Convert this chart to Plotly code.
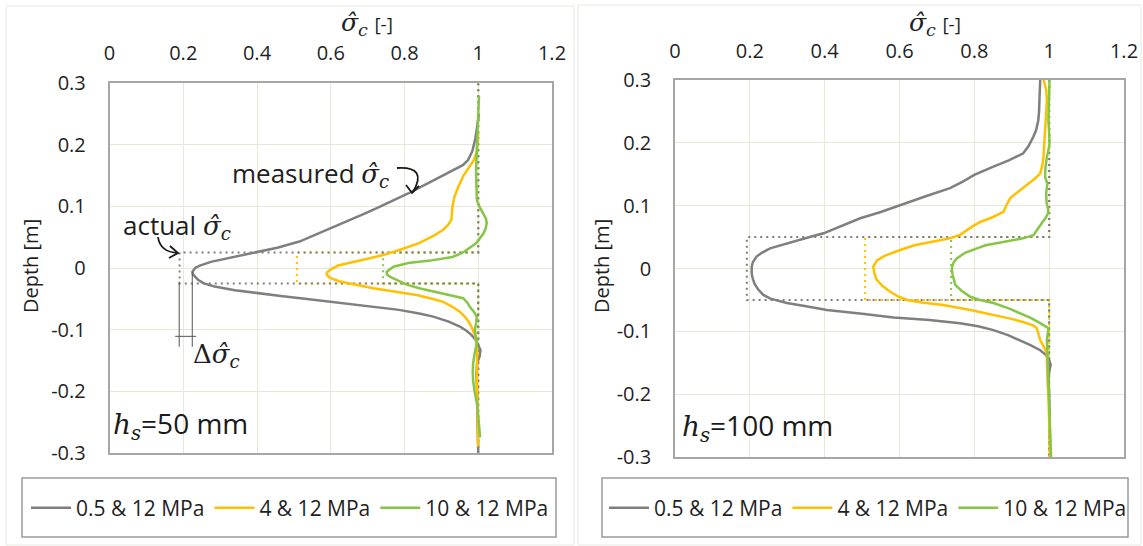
import plotly.graph_objects as go

W, H = 1143, 546

# ---------------- data ----------------
series_names = ["0.5 & 12 MPa", "4 & 12 MPa", "10 & 12 MPa"]
series_colors = ["#7f7f7f", "#ffc000", "#86c546"]

x_tick_vals = [0, 0.2, 0.4, 0.6, 0.8, 1.0, 1.2]
x_tick_text = ["0", "0.2", "0.4", "0.6", "0.8", "1", "1.2"]
y_tick_vals = [0.3, 0.2, 0.1, 0.0, -0.1, -0.2, -0.3]
y_tick_text = ["0.3", "0.2", "0.1", "0", "-0.1", "-0.2", "-0.3"]

# hs = 50 mm (left panel)
l_gray_depth = [0.25, 0.23, 0.21, 0.19, 0.175, 0.167, 0.158, 0.148, 0.135, 0.121, 0.110, 0.100, 0.090, 0.080,
                0.070, 0.062, 0.052, 0.043, 0.033, 0.024, 0.016, 0.010, 0.004, 0.000, -0.006, -0.010, -0.014,
                -0.019, -0.025, -0.030, -0.036, -0.041, -0.046, -0.050, -0.055, -0.061, -0.068, -0.074, -0.079,
                -0.087, -0.095, -0.102, -0.109, -0.117, -0.125, -0.133, -0.143, -0.155, -0.17, -0.2, -0.25, -0.3]
l_gray_val = [1.002, 0.998, 0.992, 0.984, 0.972, 0.958, 0.930, 0.898, 0.855, 0.810, 0.772, 0.735, 0.698, 0.660,
              0.622, 0.590, 0.553, 0.515, 0.455, 0.385, 0.320, 0.275, 0.245, 0.232, 0.225, 0.226, 0.232,
              0.240, 0.256, 0.285, 0.340, 0.400, 0.470, 0.530, 0.605, 0.690, 0.785, 0.840, 0.878,
              0.920, 0.950, 0.968, 0.982, 0.993, 1.000, 1.006, 1.004, 0.997, 0.995, 0.997, 0.998, 1.000]

l_orange_depth = [0.22, 0.19, 0.175, 0.165, 0.15, 0.132, 0.115, 0.100, 0.085, 0.078, 0.070, 0.062, 0.052, 0.040,
                  0.030, 0.021, 0.015, 0.010, 0.004, -0.003, -0.008, -0.011, -0.016, -0.022, -0.028, -0.033,
                  -0.039, -0.044, -0.050, -0.055, -0.063, -0.071, -0.080, -0.090, -0.100, -0.109, -0.12, -0.14,
                  -0.18, -0.22, -0.26, -0.29]
l_orange_val = [1.000, 0.996, 0.988, 0.977, 0.960, 0.946, 0.935, 0.930, 0.929, 0.927, 0.918, 0.905, 0.878, 0.838,
                0.790, 0.742, 0.700, 0.661, 0.620, 0.598, 0.589, 0.589, 0.598, 0.625, 0.670, 0.715,
                0.780, 0.833, 0.875, 0.905, 0.930, 0.950, 0.965, 0.977, 0.985, 0.991, 0.995, 0.997,
                0.996, 0.997, 0.998, 1.000]

l_green_depth = [0.28, 0.25, 0.22, 0.192, 0.175, 0.159, 0.135, 0.111, 0.100, 0.089, 0.080, 0.073, 0.064, 0.056,
                 0.048, 0.040, 0.032, 0.024, 0.018, 0.012, 0.008, 0.002, -0.006, -0.010, -0.014, -0.020, -0.027,
                 -0.033, -0.038, -0.044, -0.049, -0.056, -0.063, -0.071, -0.079, -0.090, -0.100, -0.110, -0.122,
                 -0.140, -0.155, -0.170, -0.182, -0.200, -0.219, -0.240, -0.260, -0.275]
l_green_val = [1.002, 1.000, 0.998, 0.996, 0.994, 0.994, 0.995, 0.996, 1.003, 1.014, 1.021, 1.023, 1.020, 1.014,
               1.005, 0.994, 0.975, 0.955, 0.930, 0.870, 0.810, 0.770, 0.752, 0.752, 0.760, 0.780, 0.806,
               0.840, 0.878, 0.930, 0.959, 0.970, 0.977, 0.988, 0.996, 0.994, 0.991, 0.993, 0.996,
               0.990, 0.986, 0.985, 0.986, 0.990, 0.996, 1.000, 1.003, 1.005]

# hs = 100 mm (right panel)
r_gray_depth = [0.30, 0.27, 0.25, 0.236, 0.22, 0.21, 0.195, 0.183, 0.172, 0.162, 0.149, 0.138, 0.128, 0.115,
                0.101, 0.090, 0.080, 0.068, 0.056, 0.050, 0.043, 0.037, 0.032, 0.025, 0.019, 0.010, 0.003,
                -0.005, -0.012, -0.018, -0.025, -0.033, -0.042, -0.048, -0.055, -0.060, -0.066, -0.072, -0.078,
                -0.082, -0.087, -0.092, -0.098, -0.106, -0.114, -0.122, -0.130, -0.137, -0.143, -0.153, -0.165,
                -0.177, -0.2, -0.25, -0.3]
r_gray_val = [0.976, 0.975, 0.973, 0.971, 0.965, 0.958, 0.945, 0.930, 0.892, 0.851, 0.800, 0.768, 0.735, 0.670,
              0.602, 0.550, 0.495, 0.445, 0.397, 0.360, 0.316, 0.280, 0.254, 0.232, 0.218, 0.208, 0.205,
              0.205, 0.206, 0.209, 0.213, 0.222, 0.236, 0.255, 0.299, 0.350, 0.406, 0.500, 0.584,
              0.680, 0.762, 0.810, 0.851, 0.890, 0.922, 0.950, 0.976, 0.990, 0.998, 1.004, 1.000,
              0.998, 1.000, 1.002, 1.003]

r_orange_depth = [0.30, 0.285, 0.268, 0.245, 0.225, 0.20, 0.178, 0.165, 0.151, 0.142, 0.133, 0.122, 0.112, 0.100,
                  0.090, 0.082, 0.074, 0.067, 0.061, 0.054, 0.048, 0.042, 0.037, 0.029, 0.020, 0.013, 0.003,
                  -0.008, -0.018, -0.028, -0.037, -0.044, -0.050, -0.054, -0.058, -0.066, -0.074, -0.081, -0.087,
                  -0.091, -0.095, -0.105, -0.114, -0.125, -0.135, -0.150, -0.167, -0.185, -0.204, -0.25, -0.3]
r_orange_val = [0.985, 0.992, 0.994, 0.991, 0.989, 0.987, 0.985, 0.982, 0.976, 0.960, 0.940, 0.918, 0.896, 0.885,
                0.878, 0.850, 0.816, 0.795, 0.780, 0.763, 0.735, 0.680, 0.640, 0.600, 0.560, 0.540, 0.530,
                0.533, 0.539, 0.555, 0.575, 0.595, 0.620, 0.660, 0.717, 0.790, 0.851, 0.905, 0.940,
                0.958, 0.967, 0.972, 0.976, 0.986, 0.994, 0.994, 0.994, 0.996, 0.998, 1.000, 1.003]

r_green_depth = [0.30, 0.27, 0.236, 0.215, 0.199, 0.188, 0.178, 0.16, 0.146, 0.135, 0.127, 0.119, 0.105, 0.095,
                 0.088, 0.080, 0.072, 0.062, 0.053, 0.048, 0.043, 0.037, 0.032, 0.025, 0.016, 0.010, 0.004,
                 -0.002, -0.010, -0.018, -0.026, -0.035, -0.045, -0.050, -0.055, -0.063, -0.071, -0.079, -0.087,
                 -0.095, -0.105, -0.114, -0.13, -0.151, -0.18, -0.204, -0.25, -0.3]
r_green_val = [1.001, 1.000, 0.998, 1.000, 1.001, 0.998, 0.994, 0.990, 0.989, 0.995, 0.994, 0.992, 0.993, 0.997,
               0.997, 0.990, 0.980, 0.968, 0.958, 0.930, 0.880, 0.830, 0.807, 0.775, 0.753, 0.745, 0.741,
               0.740, 0.742, 0.745, 0.749, 0.765, 0.789, 0.815, 0.851, 0.890, 0.922, 0.952, 0.976,
               0.998, 0.996, 0.994, 0.995, 0.996, 0.997, 0.998, 1.002, 1.005]

# "actual" step profiles (dotted)
l_actual_depth = [0.3, 0.025, 0.025, -0.025, -0.025, -0.3]
l_actual_gray = [1.0, 1.0, 0.19, 0.19, 1.0, 1.0]
l_actual_orange = [1.0, 1.0, 0.508, 0.508, 1.0, 1.0]
l_actual_green = [1.0, 1.0, 0.742, 0.742, 1.0, 1.0]
r_actual_depth = [0.3, 0.05, 0.05, -0.05, -0.05, -0.3]
r_actual_gray = [1.0, 1.0, 0.192, 0.192, 1.0, 1.0]
r_actual_orange = [1.0, 1.0, 0.508, 0.508, 1.0, 1.0]
r_actual_green = [1.0, 1.0, 0.738, 0.738, 1.0, 1.0]

# ---------------- figure ----------------
FONT = "Open Sans"
TXT = "#1f1f1f"
GRID = "#e9e7da"
BORDER = "#a6a6a6"
MATH = "DejaVu Serif"


def px(x):
    return x / W


def py(y):
    return 1 - y / H


fig = go.Figure()

panels = [
    ("x", "y", "legend",
     [(l_gray_val, l_gray_depth), (l_orange_val, l_orange_depth), (l_green_val, l_green_depth)],
     [l_actual_orange, l_actual_green, l_actual_gray], l_actual_depth),
    ("x2", "y2", "legend2",
     [(r_gray_val, r_gray_depth), (r_orange_val, r_orange_depth), (r_green_val, r_green_depth)],
     [r_actual_orange, r_actual_green, r_actual_gray], r_actual_depth),
]
actual_colors = [series_colors[1], series_colors[2], series_colors[0]]

for xa, ya, leg, curves, actuals, adepth in panels:
    for vals, col in zip(actuals, actual_colors):
        fig.add_trace(go.Scatter(x=vals, y=adepth, xaxis=xa, yaxis=ya, mode="lines",
                                 line=dict(color=col, width=2, dash="2px,4px"),
                                 showlegend=False, hoverinfo="skip"))
    for (vals, dep), name, col in zip(curves, series_names, series_colors):
        fig.add_trace(go.Scatter(x=vals, y=dep, xaxis=xa, yaxis=ya, mode="lines", name=name,
                                 line=dict(color=col, width=2.5), legend=leg))

axis_common = dict(showgrid=True, gridcolor=GRID, gridwidth=1, zeroline=False, showline=True, mirror=True,
                   linecolor=BORDER, linewidth=1.5, ticks="outside", tickcolor="rgba(0,0,0,0)",
                   tickfont=dict(family=FONT, size=20, color=TXT), automargin=False, fixedrange=True)

left_dom_x = [px(109.5), px(552)]
right_dom_x = [px(675), px(1124)]
left_dom_y = [py(452.7), py(83.3)]
right_dom_y = [py(457), py(80)]

fig.update_layout(
    xaxis=dict(domain=left_dom_x, range=[0, 1.2], side="top", anchor="y", tickvals=x_tick_vals,
               ticktext=x_tick_text, ticklen=14, **axis_common),
    yaxis=dict(domain=left_dom_y, range=[-0.3, 0.3], anchor="x", tickvals=y_tick_vals,
               ticktext=y_tick_text, ticklen=18, **axis_common),
    xaxis2=dict(domain=right_dom_x, range=[0, 1.2], side="top", anchor="y2", tickvals=x_tick_vals,
                ticktext=x_tick_text, ticklen=12, **axis_common),
    yaxis2=dict(domain=right_dom_y, range=[-0.3, 0.3], anchor="x2", tickvals=y_tick_vals,
                ticktext=y_tick_text, ticklen=18, **axis_common),
    width=W, height=H, margin=dict(l=0, r=0, t=0, b=0),
    paper_bgcolor="white", plot_bgcolor="white",
    font=dict(family=FONT, color=TXT),
    legend=dict(x=px(26), y=py(508), xanchor="left", yanchor="middle", orientation="h",
                font=dict(family=FONT, size=21, color=TXT), bgcolor="rgba(0,0,0,0)", borderwidth=0,
                itemwidth=40, tracegroupgap=0),
    legend2=dict(x=px(604), y=py(508), xanchor="left", yanchor="middle", orientation="h",
                 font=dict(family=FONT, size=21, color=TXT), bgcolor="rgba(0,0,0,0)", borderwidth=0,
                 itemwidth=40, tracegroupgap=0),
    showlegend=True,
)

shapes = []
# outer chart-area borders
shapes.append(dict(type="rect", xref="paper", yref="paper", x0=px(6), x1=px(574), y0=py(545), y1=py(6),
                   line=dict(color="#e8e8e2", width=1)))
shapes.append(dict(type="rect", xref="paper", yref="paper", x0=px(578), x1=px(1141), y0=py(545), y1=py(5),
                   line=dict(color="#e8e8e2", width=1)))
# legend boxes
shapes.append(dict(type="rect", xref="paper", yref="paper", x0=px(22), x1=px(556), y0=py(537), y1=py(478),
                   line=dict(color="#9a9a9a", width=1.5)))
shapes.append(dict(type="rect", xref="paper", yref="paper", x0=px(602), x1=px(1128), y0=py(537), y1=py(478),
                   line=dict(color="#9a9a9a", width=1.5)))

# curved arrow "measured"
shapes.append(dict(type="path", xref="paper", yref="paper",
                   path=f"M {px(397)},{py(168)} Q {px(428)},{py(166)} {px(413)},{py(192)}",
                   line=dict(color="#1a1a1a", width=1.8)))
shapes.append(dict(type="path", xref="paper", yref="paper",
                   path=f"M {px(406)},{py(185)} L {px(412)},{py(193)} L {px(419)},{py(186)}",
                   line=dict(color="#1a1a1a", width=1.8)))
# curved arrow "actual"
shapes.append(dict(type="path", xref="paper", yref="paper",
                   path=f"M {px(158)},{py(237)} Q {px(160)},{py(252)} {px(178)},{py(253)}",
                   line=dict(color="#1a1a1a", width=1.8)))
shapes.append(dict(type="path", xref="paper", yref="paper",
                   path=f"M {px(170)},{py(246)} L {px(178)},{py(253)} L {px(169)},{py(258)}",
                   line=dict(color="#1a1a1a", width=1.8)))
# delta bracket
shapes.append(dict(type="line", xref="x", yref="y", x0=0.189, x1=0.189, y0=-0.022, y1=-0.128,
                   line=dict(color="#555555", width=1)))
shapes.append(dict(type="line", xref="x", yref="y", x0=0.2245, x1=0.2245, y0=-0.006, y1=-0.128,
                   line=dict(color="#555555", width=1)))
shapes.append(dict(type="line", xref="x", yref="y", x0=0.178, x1=0.235, y0=-0.111, y1=-0.111,
                   line=dict(color="#555555", width=1)))
fig.update_layout(shapes=shapes)

sig = f'<span style="font-family:{MATH}"><i>σ\u0302</i><sub><i>c</i></sub></span>'
ann = []
for cx in (367, 935):
    ann.append(dict(xref="paper", yref="paper", x=px(cx), y=py(22),
                    text=sig + ' <span style="font-size:19px">[-]</span>',
                    showarrow=False, font=dict(family=FONT, size=25, color=TXT), xanchor="center", yanchor="middle"))
for cx in (30, 601):
    ann.append(dict(xref="paper", yref="paper", x=px(cx), y=py(266), text="Depth [m]", textangle=-90,
                    showarrow=False, font=dict(family=FONT, size=20, color=TXT), xanchor="center", yanchor="middle"))
ann.append(dict(xref="paper", yref="paper", x=px(230), y=py(173), text="measured " + sig, showarrow=False,
                font=dict(family=FONT, size=26, color=TXT), xanchor="left", yanchor="middle"))
ann.append(dict(xref="paper", yref="paper", x=px(121), y=py(226), text="actual " + sig, showarrow=False,
                font=dict(family=FONT, size=26, color=TXT), xanchor="left", yanchor="middle"))
ann.append(dict(xref="paper", yref="paper", x=px(191), y=py(355),
                text=f'<span style="font-family:{MATH}">Δ<i>σ\u0302</i><sub><i>c</i></sub></span>', showarrow=False,
                font=dict(family=FONT, size=26, color=TXT), xanchor="left", yanchor="middle"))
hs = f'<span style="font-family:{MATH}"><i>h</i><sub><i>s</i></sub></span>'
ann.append(dict(xref="paper", yref="paper", x=px(111), y=py(424), text=hs + "=50 mm", showarrow=False,
                font=dict(family=FONT, size=28, color="#1a1a1a"), xanchor="left", yanchor="middle"))
ann.append(dict(xref="paper", yref="paper", x=px(680), y=py(426), text=hs + "=100 mm", showarrow=False,
                font=dict(family=FONT, size=28, color="#1a1a1a"), xanchor="left", yanchor="middle"))
fig.update_layout(annotations=ann)

fig.write_html("out.html")
